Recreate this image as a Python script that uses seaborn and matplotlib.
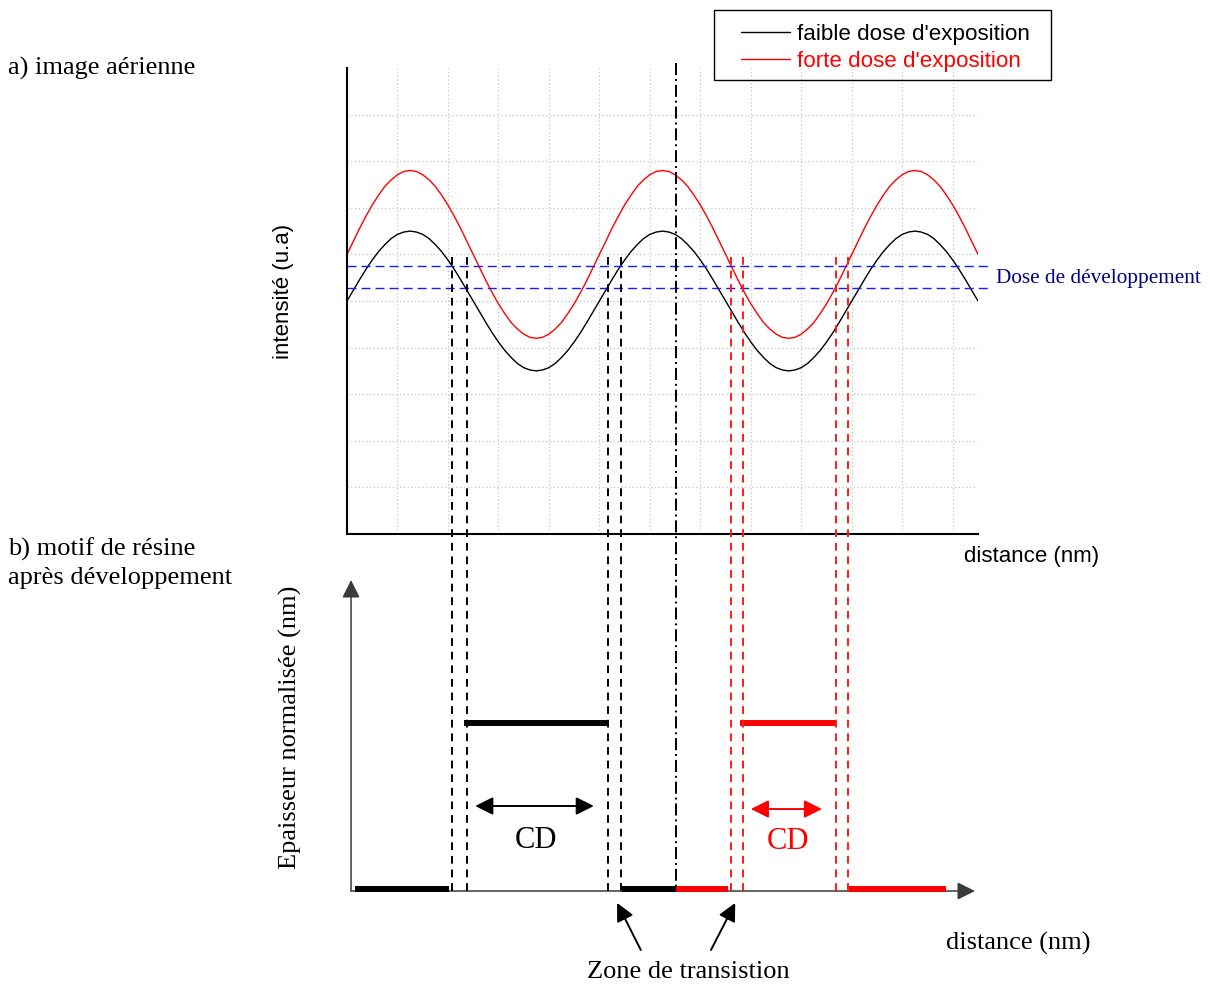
import numpy as np
import pandas as pd
import matplotlib
matplotlib.use("Agg")
import matplotlib.pyplot as plt
import matplotlib.transforms as mtransforms
from matplotlib.lines import Line2D
from matplotlib.patches import Rectangle
from matplotlib.legend_handler import HandlerLine2D
from matplotlib.ticker import MultipleLocator, FixedLocator
import seaborn as sns

# ---------------------------------------------------------------- data
# aerial image intensity (a.u.) along the distance axis, sampled every 0.125
distance = np.arange(0, 12.501, 0.125)
intensity_low = [
    5.00, 5.23, 5.46, 5.68, 5.88, 6.06, 6.21, 6.34, 6.43, 6.48,
    6.50, 6.48, 6.43, 6.34, 6.21, 6.06, 5.88, 5.68, 5.46, 5.23,
    5.00, 4.77, 4.54, 4.32, 4.12, 3.94, 3.79, 3.66, 3.57, 3.52,
    3.50, 3.52, 3.57, 3.66, 3.79, 3.94, 4.12, 4.32, 4.54, 4.77,
    5.00, 5.23, 5.46, 5.68, 5.88, 6.06, 6.21, 6.34, 6.43, 6.48,
    6.50, 6.48, 6.43, 6.34, 6.21, 6.06, 5.88, 5.68, 5.46, 5.23,
    5.00, 4.77, 4.54, 4.32, 4.12, 3.94, 3.79, 3.66, 3.57, 3.52,
    3.50, 3.52, 3.57, 3.66, 3.79, 3.94, 4.12, 4.32, 4.54, 4.77,
    5.00, 5.23, 5.46, 5.68, 5.88, 6.06, 6.21, 6.34, 6.43, 6.48,
    6.50, 6.48, 6.43, 6.34, 6.21, 6.06, 5.88, 5.68, 5.46, 5.23,
    5.00,
]
intensity_high = [
    6.00, 6.28, 6.56, 6.82, 7.06, 7.27, 7.46, 7.60, 7.71, 7.78,
    7.80, 7.78, 7.71, 7.60, 7.46, 7.27, 7.06, 6.82, 6.56, 6.28,
    6.00, 5.72, 5.44, 5.18, 4.94, 4.73, 4.54, 4.40, 4.29, 4.22,
    4.20, 4.22, 4.29, 4.40, 4.54, 4.73, 4.94, 5.18, 5.44, 5.72,
    6.00, 6.28, 6.56, 6.82, 7.06, 7.27, 7.46, 7.60, 7.71, 7.78,
    7.80, 7.78, 7.71, 7.60, 7.46, 7.27, 7.06, 6.82, 6.56, 6.28,
    6.00, 5.72, 5.44, 5.18, 4.94, 4.73, 4.54, 4.40, 4.29, 4.22,
    4.20, 4.22, 4.29, 4.40, 4.54, 4.73, 4.94, 5.18, 5.44, 5.72,
    6.00, 6.28, 6.56, 6.82, 7.06, 7.27, 7.46, 7.60, 7.71, 7.78,
    7.80, 7.78, 7.71, 7.60, 7.46, 7.27, 7.06, 6.82, 6.56, 6.28,
    6.00,
]
dose_labels = ["faible dose d'exposition", "forte dose d'exposition"]

# development dose window (a.u.)
dose_levels = [5.27, 5.76]

# edge positions where each profile crosses the dose window
edges_low = [2.08, 2.38, 5.17, 5.43]
edges_high = [7.61, 7.85, 9.69, 9.93]
symmetry_x = 6.52

# resist pattern after development (normalised thickness 0 or 1)
low_floor_start = [0.16, 5.45]
low_floor_end = [2.03, 6.52]
low_line = (2.32, 5.17)
high_floor_start = [6.52, 9.95]
high_floor_end = [7.55, 11.87]
high_line = (7.78, 9.69)
resist_top = 1.0
resist_floor = 0.012

# critical dimension markers
cd_low = (2.54, 4.89)
cd_high = (8.00, 9.41)
transition_points = [5.35, 7.69]

# ---------------------------------------------------------------- style
sns.set_style("white")
plt.rcParams["font.family"] = ["Liberation Sans", "DejaVu Sans"]
plt.rcParams.update({"text.color": "black", "axes.labelcolor": "black"})
SERIF = ["Liberation Serif", "DejaVu Serif"]

W, H = 1210, 985
fig = plt.figure(figsize=(W / 100, H / 100), dpi=100)


def fx(px):
    return px / W


def fy(py):
    return 1 - py / H


ax1 = fig.add_axes([fx(347), fy(534), fx(978) - fx(347), fy(68) - fy(534)])
ax2 = fig.add_axes([fx(347), 0, fx(978) - fx(347), fy(575)])

# ---------------------------------------------------------------- a) aerial image
df = pd.DataFrame({
    "distance": np.concatenate([distance, distance]),
    "intensite": intensity_low + intensity_high,
    "dose": [dose_labels[0]] * len(distance) + [dose_labels[1]] * len(distance),
})
sns.lineplot(data=df, x="distance", y="intensite", hue="dose",
             palette={dose_labels[0]: "black", dose_labels[1]: "red"},
             lw=1.0, legend=False, estimator=None, sort=False, ax=ax1)
curve_lines = ax1.get_lines()[:2]

ax1.set_xlim(0, 12.5)
ax1.set_ylim(0, 10)
ax1.xaxis.set_major_locator(MultipleLocator(1))
ax1.xaxis.set_minor_locator(MultipleLocator(0.5))
ax1.yaxis.set_major_locator(FixedLocator(range(0, 10)))
ax1.yaxis.set_minor_locator(MultipleLocator(0.5))
ax1.grid(True, which="major", color="#c4c4c4", linestyle=(0, (1, 2)), lw=0.9)
ax1.tick_params(which="both", direction="in", length=3, width=1, color="black",
                labelbottom=False, labelleft=False)
for s in ("top", "right"):
    ax1.spines[s].set_visible(False)
for s in ("left", "bottom"):
    ax1.spines[s].set_linewidth(1.5)
    ax1.spines[s].set_color("black")

for lvl in dose_levels:
    ax1.axhline(lvl, xmin=0, xmax=1.016, color="#1a1aff", lw=1.0,
                dashes=(6.5, 3.6), clip_on=False)

ax1.set_ylabel("intensité (u.a)", fontsize=16)
ax1.yaxis.set_label_coords(-0.084, 0.521)
ax1.set_xlabel("distance (nm)", fontsize=16, ha="left", va="baseline")
ax1.xaxis.set_label_coords(0.978, -0.060)

ax1.legend(curve_lines, dose_labels, loc="upper left",
           bbox_to_anchor=(fx(714), fy(10)), bbox_transform=fig.transFigure,
           borderaxespad=0, fontsize=16.1, frameon=False, borderpad=0.62,
           handlelength=2.8, handletextpad=0.28, labelspacing=0.26,
           labelcolor="linecolor",
           handler_map={Line2D: HandlerLine2D(xpad=0.58)})
# legend frame
fig.add_artist(Rectangle((fx(714), fy(80)), fx(1051) - fx(714), fy(10) - fy(80),
                         transform=fig.transFigure, fill=False,
                         edgecolor="black", lw=1.0))

fig.text(fx(996), fy(283), "Dose de développement", color="#000080",
         fontsize=15.3, family=SERIF, va="baseline", ha="left")

# ---------------------------------------------------------------- edge guides
trans = mtransforms.blended_transform_factory(ax1.transData, fig.transFigure)
for x in edges_low:
    fig.add_artist(Line2D([x, x], [fy(257), fy(892)], transform=trans,
                          color="black", lw=1.4, dashes=(4, 3)))
for x in edges_high:
    fig.add_artist(Line2D([x, x], [fy(257), fy(892)], transform=trans,
                          color="#ff1a1a", lw=1.4, dashes=(4, 3)))
fig.add_artist(Line2D([symmetry_x, symmetry_x], [fy(63), fy(890)], transform=trans,
                      color="black", lw=1.4, dashes=(6.2, 2, 1, 2)))

# ---------------------------------------------------------------- b) resist pattern
ax2.set_xlim(0, 12.5)
ax2.set_ylim(-0.5595, 1.881)
for sp in ax2.spines.values():
    sp.set_visible(False)
ax2.set_xticks([])
ax2.set_yticks([])
ax2.patch.set_alpha(0)

axis_arrow = dict(arrowstyle="-|>,head_length=0.9,head_width=0.45",
                  mutation_scale=12, color="#3a3a3a", lw=1.1,
                  shrinkA=0, shrinkB=0)
ax2.annotate("", xy=(12.44, 0), xytext=(0.08, 0), arrowprops=axis_arrow)
ax2.annotate("", xy=(0.08, 1.851), xytext=(0.08, 0), arrowprops=axis_arrow)

bar_lw = 4.3
ax2.hlines([resist_floor] * 2, low_floor_start, low_floor_end, color="black",
           lw=bar_lw, zorder=4)
ax2.hlines(resist_top, low_line[0], low_line[1], color="black", lw=bar_lw, zorder=4)
ax2.hlines([resist_floor] * 2, high_floor_start, high_floor_end, color="red",
           lw=bar_lw, zorder=4)
ax2.hlines(resist_top, high_line[0], high_line[1], color="red", lw=bar_lw, zorder=4)
for coll in ax2.collections:
    coll.set_capstyle("butt")

cd_style = "<|-|>,head_length=0.9,head_width=0.45"
ax2.annotate("", xy=(cd_low[1], 0.506), xytext=(cd_low[0], 0.506),
             arrowprops=dict(arrowstyle=cd_style, mutation_scale=12, color="black",
                             lw=1.4, shrinkA=0, shrinkB=0))
ax2.annotate("", xy=(cd_high[1], 0.488), xytext=(cd_high[0], 0.488),
             arrowprops=dict(arrowstyle=cd_style, mutation_scale=12, color="red",
                             lw=1.4, shrinkA=0, shrinkB=0))
ax2.text((cd_low[0] + cd_low[1]) / 2 + 0.03, 0.256, "CD", ha="center", va="baseline",
         fontsize=22, family=SERIF, color="black")
ax2.text((cd_high[0] + cd_high[1]) / 2 + 0.03, 0.25, "CD", ha="center", va="baseline",
         fontsize=22, family=SERIF, color="red")

zone_arrow = dict(arrowstyle="-|>,head_length=0.9,head_width=0.45",
                  mutation_scale=12, color="black", lw=1.4, shrinkA=0, shrinkB=0)
ax2.annotate("", xy=(transition_points[0], -0.071), xytext=(5.82, -0.351),
             arrowprops=zone_arrow, annotation_clip=False)
ax2.annotate("", xy=(transition_points[1], -0.071), xytext=(7.21, -0.351),
             arrowprops=zone_arrow, annotation_clip=False)
fig.text(fx(688), fy(978), "Zone de transistion", ha="center", va="baseline",
         fontsize=19, family=SERIF)

ax2.set_ylabel("Epaisseur normalisée (nm)", fontsize=19, family=SERIF)
ax2.yaxis.set_label_coords(-0.0713, 0.629)
ax2.set_xlabel("distance (nm)", fontsize=19, family=SERIF, ha="left", va="baseline")
ax2.xaxis.set_label_coords(0.949, 0.0854)

# ---------------------------------------------------------------- panel captions
fig.text(fx(8), fy(75), "a) image aérienne", fontsize=19, family=SERIF,
         ha="left", va="baseline")
fig.text(fx(8), fy(556), "b) motif de résine", fontsize=19, family=SERIF,
         ha="left", va="baseline")
fig.text(fx(8), fy(584), "après développement", fontsize=19, family=SERIF,
         ha="left", va="baseline")

fig.savefig("out.png", dpi=100, facecolor="white")
